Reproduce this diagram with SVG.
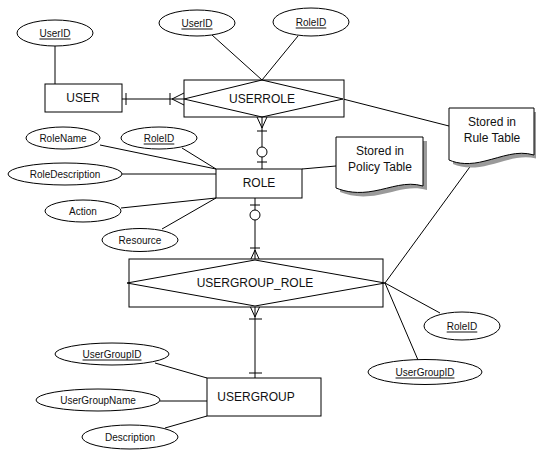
<svg xmlns="http://www.w3.org/2000/svg" width="536" height="451" viewBox="0 0 536 451">
  <style>
    .ent { fill: #fff; stroke: #000; stroke-width: 1; }
    .attr { fill: #fff; stroke: #000; stroke-width: 1; }
    .ln { fill: none; stroke: #000; stroke-width: 1; }
    .note { fill: #fff; stroke: #000; stroke-width: 1; }
    .shadow { fill: #9a9a9a; stroke: none; }
    .t12 { font-family: "Liberation Sans", Arial, sans-serif; font-size: 12px; fill: #111; text-anchor: middle; dominant-baseline: central; }
    .t10 { font-family: "Liberation Sans", Arial, sans-serif; font-size: 10px; fill: #111; text-anchor: middle; dominant-baseline: central; }
    .key { text-decoration: underline; }
  </style>

  <!-- connectors -->
  <g id="connectors">
    <!-- attribute links -->
    <line class="ln" x1="55" y1="46" x2="55" y2="84"/>
    <line class="ln" x1="212" y1="35" x2="262" y2="80"/>
    <line class="ln" x1="298" y1="36" x2="262" y2="80"/>
    <line class="ln" x1="100" y1="145" x2="216" y2="169"/>
    <line class="ln" x1="182" y1="148" x2="216" y2="169"/>
    <line class="ln" x1="122" y1="174" x2="216" y2="174"/>
    <line class="ln" x1="121" y1="208" x2="216" y2="198"/>
    <line class="ln" x1="162" y1="229" x2="216" y2="198"/>
    <line class="ln" x1="385" y1="283" x2="440" y2="313"/>
    <line class="ln" x1="385" y1="283" x2="418" y2="360"/>
    <line class="ln" x1="155" y1="363" x2="207" y2="378"/>
    <line class="ln" x1="160" y1="401" x2="207" y2="401"/>
    <line class="ln" x1="165" y1="428" x2="207" y2="416"/>

    <!-- note links -->
    <line class="ln" x1="343" y1="99" x2="449" y2="126"/>
    <line class="ln" x1="302" y1="169" x2="336" y2="166"/>
    <line class="ln" x1="472" y1="164" x2="385" y2="283"/>

    <!-- USER to USERROLE -->
    <line class="ln" x1="122" y1="99" x2="184" y2="99"/>
    <line class="ln" x1="126" y1="93" x2="126" y2="105"/>
    <line class="ln" x1="170" y1="93" x2="170" y2="105"/>
    <polyline class="ln" points="184,93 172,99 184,105"/>

    <!-- USERROLE to ROLE -->
    <line class="ln" x1="262" y1="117" x2="262" y2="169"/>
    <polyline class="ln" points="257,117 262,128 267,117"/>
    <line class="ln" x1="257" y1="131" x2="267" y2="131"/>
    <circle cx="262" cy="152" r="5" class="attr"/>
    <line class="ln" x1="257" y1="162" x2="267" y2="162"/>

    <!-- ROLE to USERGROUP_ROLE -->
    <line class="ln" x1="255" y1="198" x2="255" y2="260"/>
    <line class="ln" x1="250" y1="205" x2="260" y2="205"/>
    <circle cx="255" cy="215" r="5" class="attr"/>
    <line class="ln" x1="250" y1="248" x2="260" y2="248"/>
    <polyline class="ln" points="250,261 255,250 260,261"/>

    <!-- USERGROUP_ROLE to USERGROUP -->
    <line class="ln" x1="255" y1="306" x2="255" y2="378"/>
    <polyline class="ln" points="250,306 255,317 260,306"/>
    <line class="ln" x1="249" y1="319" x2="262" y2="319"/>
    <line class="ln" x1="249" y1="373" x2="262" y2="373"/>
  </g>

  <!-- entities -->
  <g id="user">
    <rect class="ent" x="45" y="84" width="77" height="28"/>
    <text class="t12" x="83" y="98">USER</text>
  </g>
  <g id="userrole">
    <rect class="ent" x="184" y="80" width="160" height="37"/>
    <polygon class="ln" points="184,99 262,80 343,99 262,117"/>
    <text class="t12" x="262" y="99">USERROLE</text>
  </g>
  <g id="role">
    <rect class="ent" x="216" y="169" width="86" height="29"/>
    <text class="t12" x="259" y="183">ROLE</text>
  </g>
  <g id="usergroup_role">
    <rect class="ent" x="129" y="259" width="254" height="48"/>
    <polygon class="ln" points="127,283 255,260 385,283 255,306"/>
    <text class="t12" x="255" y="283">USERGROUP_ROLE</text>
  </g>
  <g id="usergroup">
    <rect class="ent" x="207" y="378" width="114" height="38"/>
    <text class="t12" x="256" y="397">USERGROUP</text>
  </g>

  <!-- attributes -->
  <g id="attr-user-userid">
    <ellipse class="attr" cx="55" cy="33" rx="38" ry="13"/>
    <text class="t10 key" x="55" y="33">UserID</text>
  </g>
  <g id="attr-userrole-userid">
    <ellipse class="attr" cx="197" cy="23" rx="38" ry="13"/>
    <text class="t10 key" x="197" y="23">UserID</text>
  </g>
  <g id="attr-userrole-roleid">
    <ellipse class="attr" cx="311" cy="22" rx="38" ry="14"/>
    <text class="t10 key" x="311" y="22">RoleID</text>
  </g>
  <g id="attr-role-rolename">
    <ellipse class="attr" cx="63" cy="138" rx="37" ry="11"/>
    <text class="t10" x="63" y="138">RoleName</text>
  </g>
  <g id="attr-role-roleid">
    <ellipse class="attr" cx="159" cy="138" rx="38" ry="11"/>
    <text class="t10 key" x="159" y="138">RoleID</text>
  </g>
  <g id="attr-role-description">
    <ellipse class="attr" cx="65" cy="174" rx="57" ry="11"/>
    <text class="t10" x="65" y="174">RoleDescription</text>
  </g>
  <g id="attr-role-action">
    <ellipse class="attr" cx="83" cy="211" rx="38" ry="11"/>
    <text class="t10" x="83" y="211">Action</text>
  </g>
  <g id="attr-role-resource">
    <ellipse class="attr" cx="140" cy="240" rx="38" ry="11.5"/>
    <text class="t10" x="140" y="240">Resource</text>
  </g>
  <g id="attr-ugrole-roleid">
    <ellipse class="attr" cx="462" cy="326" rx="38" ry="14"/>
    <text class="t10 key" x="462" y="326">RoleID</text>
  </g>
  <g id="attr-ugrole-usergroupid">
    <ellipse class="attr" cx="425" cy="372" rx="57" ry="12.5"/>
    <text class="t10 key" x="425" y="372">UserGroupID</text>
  </g>
  <g id="attr-ug-usergroupid">
    <ellipse class="attr" cx="112" cy="354" rx="57" ry="11"/>
    <text class="t10 key" x="112" y="354">UserGroupID</text>
  </g>
  <g id="attr-ug-name">
    <ellipse class="attr" cx="98" cy="400" rx="62" ry="11"/>
    <text class="t10" x="98" y="400">UserGroupName</text>
  </g>
  <g id="attr-ug-description">
    <ellipse class="attr" cx="130" cy="437" rx="48" ry="12"/>
    <text class="t10" x="130" y="437">Description</text>
  </g>

  <!-- notes -->
  <g id="note-policy">
    <path class="shadow" d="M340,141 H427 V190 C410,185 395,192 378,195 C362,198 350,196 340,192 Z"/>
    <path class="note" d="M336,137 H423 V186 C406,181 391,188 374,191 C358,194 346,192 336,188 Z"/>
    <text class="t12" x="380" y="151">Stored in</text>
    <text class="t12" x="380" y="167">Policy Table</text>
  </g>
  <g id="note-rule">
    <path class="shadow" d="M453,112 H538 V159 C521,154 506,161 489,165 C474,169 462,168 453,164 Z"/>
    <path class="note" d="M449,108 H534 V155 C517,150 502,157 485,161 C470,165 458,164 449,160 Z"/>
    <text class="t12" x="492" y="122">Stored in</text>
    <text class="t12" x="492" y="138">Rule Table</text>
  </g>
</svg>
